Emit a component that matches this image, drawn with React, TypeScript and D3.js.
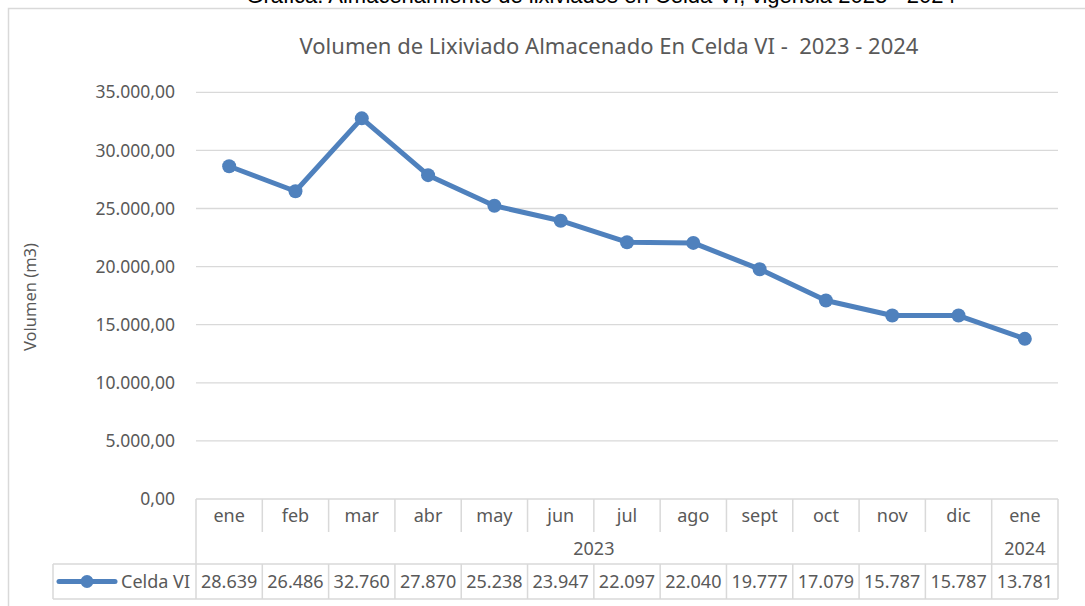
import React from "react";
import * as d3 from "d3";

const months = ["ene", "feb", "mar", "abr", "may", "jun", "jul", "ago", "sept", "oct", "nov", "dic", "ene"];
const years = [
  { label: "2023", span: 12 },
  { label: "2024", span: 1 },
];
const celdaVI = [28639, 26486, 32760, 27870, 25238, 23947, 22097, 22040, 19777, 17079, 15787, 15787, 13781];
const yTicks = [0, 5000, 10000, 15000, 20000, 25000, 30000, 35000];
const seriesName = "Celda VI";
const caption = "Gráfica. Almacenamiento de lixiviados en Celda VI, vigencia 2023 - 2024";
const chartTitle = "Volumen de Lixiviado Almacenado En Celda VI -  2023 - 2024";
const yLabel = "Volumen (m3)";

const W = 1085;
const H = 606;
const left = 196;
const right = 1058;
const top = 92.3;
const bottom = 499;
const rowMonth = 532;
const rowYear = 564;
const rowData = 599;
const legendLeft = 53;

const gray = "#d9d9d9";
const textColor = "#595959";
const blue = "#4f81bd";
const font = "'Noto Sans', sans-serif";

const es = d3.formatLocale({ decimal: ",", thousands: ".", grouping: [3], currency: ["", "€"] });
const tickFmt = es.format(",.2f");
const valFmt = es.format(",.0f");

export default function App() {
  const idx = months.map((_, i) => i);
  const x = d3.scaleBand<number>().domain(idx).range([left, right]);
  const y = d3.scaleLinear().domain([0, 35000]).range([bottom, top]);
  const cx = (i: number) => (x(i) ?? 0) + x.bandwidth() / 2;

  const line = d3
    .line<number>()
    .x((_, i) => cx(i))
    .y((d) => y(d));

  // year group boundaries
  let acc = 0;
  const yearCells = years.map((g) => {
    const start = acc;
    acc += g.span;
    return { ...g, start, end: acc };
  });

  return (
    <svg width={W} height={H} style={{ position: "absolute", left: 0, top: 0, background: "#fff" }}>
      <text x={601} y={3} textAnchor="middle" fontFamily="'Liberation Sans', Arial, sans-serif" fontSize={22} fill="#000">
        {caption}
      </text>
      <rect x={8.5} y={8.5} width={W + 10} height={H + 10} fill="none" stroke={gray} strokeWidth={1.5} />

      <text x={609} y={54} textAnchor="middle" fontFamily={font} fontSize={22} fill={textColor} style={{ whiteSpace: "pre" }}>
        {chartTitle}
      </text>

      <text
        transform={`translate(36,297) rotate(-90)`}
        textAnchor="middle"
        fontFamily={font}
        fontSize={16.5}
        fill={textColor}
      >
        {yLabel}
      </text>

      {yTicks.map((t) => (
        <g key={t}>
          <line x1={left} x2={right} y1={y(t)} y2={y(t)} stroke={gray} strokeWidth={1.3} />
          <text x={175} y={y(t)} dy="0.35em" textAnchor="end" fontFamily={font} fontSize={17.5} fill={textColor}>
            {tickFmt(t)}
          </text>
        </g>
      ))}

      {/* data table */}
      <g stroke={gray} strokeWidth={1.5} fill="none">
        <line x1={left} x2={left} y1={bottom} y2={rowData} />
        <line x1={right} x2={right} y1={bottom} y2={rowData} />
        <line x1={legendLeft} x2={right} y1={rowYear} y2={rowYear} />
        <line x1={legendLeft} x2={right} y1={rowData} y2={rowData} />
        <line x1={legendLeft} x2={legendLeft} y1={rowYear} y2={rowData} />
        {idx.slice(1).map((i) => (
          <line key={"m" + i} x1={x(i)} x2={x(i)} y1={bottom} y2={rowMonth} />
        ))}
        {idx.slice(1).map((i) => (
          <line key={"d" + i} x1={x(i)} x2={x(i)} y1={rowYear} y2={rowData} />
        ))}
        {yearCells.slice(1).map((g) => (
          <line key={"y" + g.start} x1={x(g.start)} x2={x(g.start)} y1={rowMonth} y2={rowYear} />
        ))}
      </g>

      <g fontFamily={font} fontSize={18} fill={textColor} textAnchor="middle">
        {months.map((m, i) => (
          <text key={"ml" + i} x={cx(i)} y={(bottom + rowMonth) / 2} dy="0.35em">
            {m}
          </text>
        ))}
        {yearCells.map((g) => (
          <text
            key={"yl" + g.start}
            x={((x(g.start) ?? 0) + (x(g.end - 1) ?? 0) + x.bandwidth()) / 2}
            y={(rowMonth + rowYear) / 2 + 1}
            dy="0.35em"
          >
            {g.label}
          </text>
        ))}
        {celdaVI.map((v, i) => (
          <text key={"v" + i} x={cx(i)} y={(rowYear + rowData) / 2} dy="0.35em">
            {valFmt(v)}
          </text>
        ))}
        <text x={190} y={(rowYear + rowData) / 2} dy="0.35em" textAnchor="end">
          {seriesName}
        </text>
      </g>
      <line x1={59} x2={115} y1={(rowYear + rowData) / 2} y2={(rowYear + rowData) / 2} stroke={blue} strokeWidth={5} strokeLinecap="round" />
      <circle cx={87} cy={(rowYear + rowData) / 2} r={6.5} fill={blue} />

      {/* series */}
      <path d={line(celdaVI) ?? ""} fill="none" stroke={blue} strokeWidth={5} strokeLinejoin="round" strokeLinecap="round" />
      {celdaVI.map((v, i) => (
        <circle key={"c" + i} cx={cx(i)} cy={y(v)} r={7} fill={blue} />
      ))}
    </svg>
  );
}
